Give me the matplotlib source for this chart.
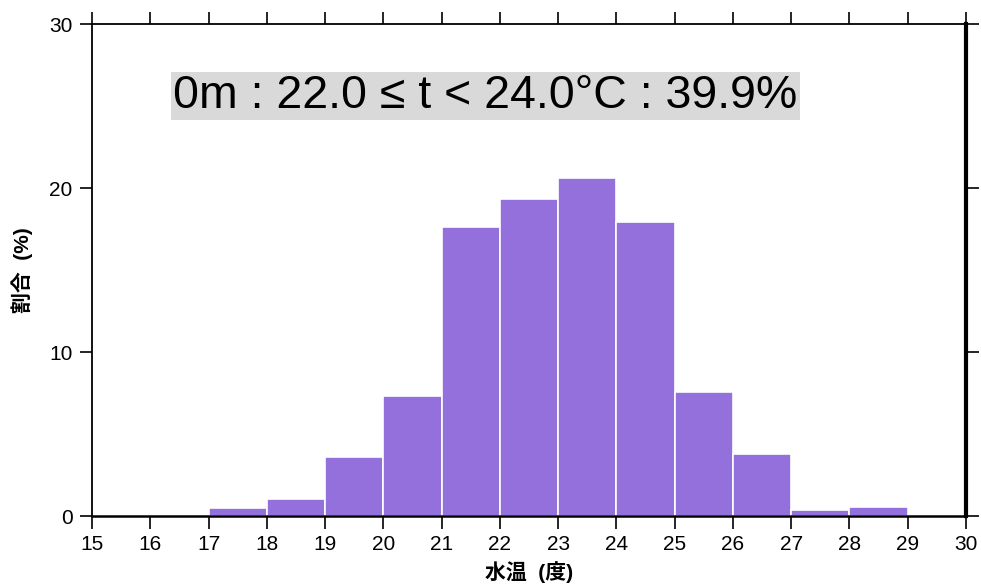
import matplotlib
matplotlib.use("Agg")
import matplotlib.pyplot as plt

plt.rcParams['font.family'] = ['Liberation Sans', 'Noto Sans CJK JP', 'DejaVu Sans']

bin_left = [17, 18, 19, 20, 21, 22, 23, 24, 25, 26, 27, 28]
percent = [0.47, 1.04, 3.58, 7.3, 17.6, 19.31, 20.59, 17.94, 7.54, 3.80, 0.38, 0.53]
xticks = list(range(15, 31))
yticks = [0, 10, 20, 30]
title_text = "0m : 22.0 \u2264 t < 24.0\u00b0C : 39.9%"
xlabel = "水温  (度)"
ylabel = "割合  (%)"

fig = plt.figure(figsize=(9.81, 5.88), dpi=100)
ax = fig.add_axes([92/981, 1 - 516/588, (966-92)/981, (516-24)/588])

ax.bar(bin_left, percent, width=1.0, align='edge', color='#9370DB',
       edgecolor='white', linewidth=1.2, zorder=2)

ax.set_xlim(15, 30)
ax.set_ylim(0, 30)
ax.set_xticks(xticks)
ax.set_yticks(yticks)
ax.tick_params(axis='both', direction='out', length=9, width=1.2,
               labelsize=15, top=True, right=True, pad=5)
ax.tick_params(axis='x', labeltop=False)
ax.tick_params(axis='y', labelright=False)

ax.spines['left'].set_linewidth(1.3)
ax.spines['top'].set_linewidth(1.3)
ax.spines['bottom'].set_linewidth(1.8)
ax.spines['right'].set_linewidth(3.0)

ax.set_xlabel(xlabel, fontsize=15, fontweight='bold', labelpad=5)
ax.set_ylabel(ylabel, fontsize=15, fontweight='bold', labelpad=12)

ax.text((173-92)/874, 1 - (96-24)/492, title_text, transform=ax.transAxes,
        ha='left', va='center', fontsize=33.5,
        bbox=dict(facecolor='#d9d9d9', edgecolor='none', boxstyle='square,pad=0.05'))

fig.savefig('out.png', dpi=100)
